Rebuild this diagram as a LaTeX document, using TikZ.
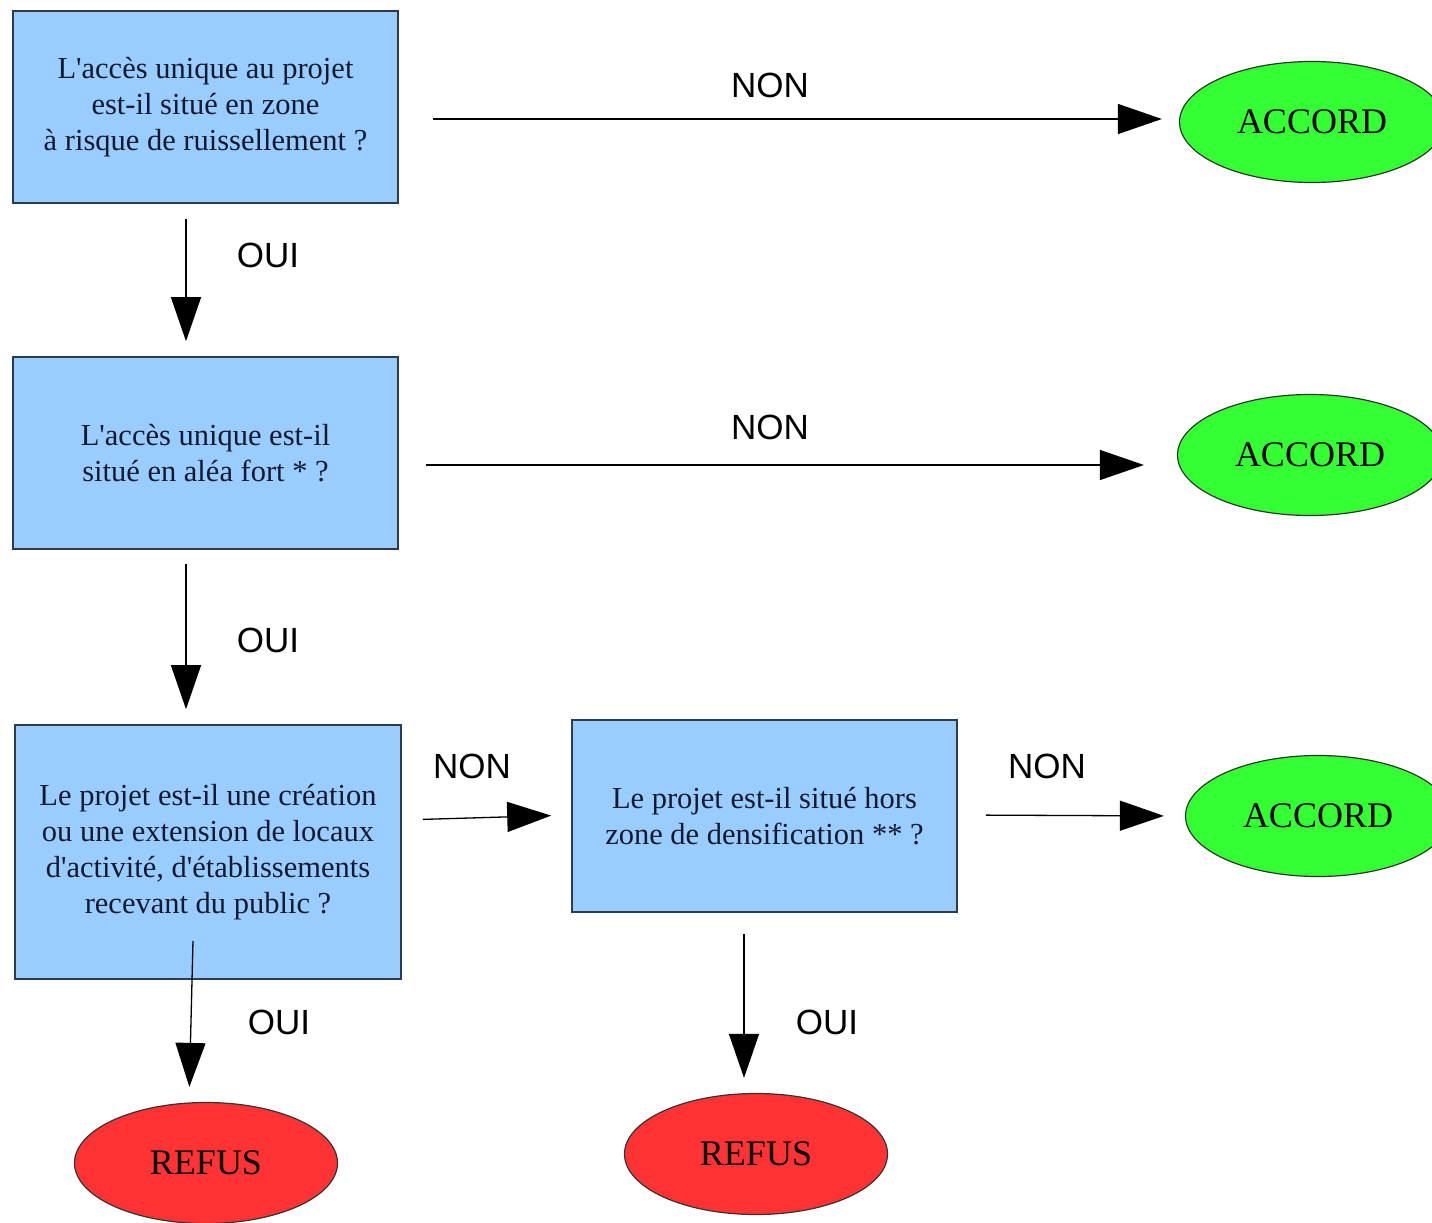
\documentclass[tikz,border=0pt]{standalone}
\usepackage{fontspec}
\setmainfont{Liberation Serif}
\newfontfamily\labelfont{Liberation Sans}
\usetikzlibrary{arrows.meta,shapes.geometric}

\definecolor{boxblue}{HTML}{99CCFF}
\definecolor{boxline}{HTML}{2E3B4E}
\definecolor{okgreen}{HTML}{33FF33}
\definecolor{nored}{HTML}{FF3333}
\definecolor{boxtext}{HTML}{141A2E}

\tikzset{
  question/.style={draw=boxline,line width=1.6pt,fill=boxblue,minimum width=385pt,
    minimum height=192pt,align=center,text=boxtext,font=\fontsize{30.5}{36}\selectfont},
  accord/.style={ellipse,draw=black!80,line width=1.2pt,fill=okgreen,minimum width=265pt,
    minimum height=121pt,inner sep=0pt,font=\fontsize{36}{40}\selectfont},
  refus/.style={ellipse,draw=black!80,line width=1.2pt,fill=nored,minimum width=263pt,
    minimum height=121pt,inner sep=0pt,font=\fontsize{36}{40}\selectfont},
  answer/.style={font=\labelfont\fontsize{35}{40}\selectfont},
  flow/.style={line width=1.3pt,-{Triangle[length=44pt,width=30pt]}}
}
\newcommand{\ap}{\textquotesingle}

\begin{document}
\begin{tikzpicture}[x=1pt,y=-1pt]
        \useasboundingbox (0,0) rectangle (1432,1223);
        \clip (0,0) rectangle (1432,1223);
        % questions
        \node[question] (b1) at (205.5,107) {L\ap acc\`es unique au projet\\ est-il situé en zone\\à risque de ruissellement ?};
        \node[question] (b2) at (205.5,453) {L\ap accès unique est-il\\situé en aléa fort * ?};
        \node[question,minimum width=386pt,minimum height=254pt] (b3) at (208,852)
          {Le projet est-il une création\\ou une extension de locaux\\ d\ap activité, d\ap établissements\\recevant du public ?};
        \node[question] (b4) at (764.5,816) {Le projet est-il situé hors\\zone de densification ** ?};
        % answers
        \node[accord] (acc1) at (1312,122) {ACCORD};
        \node[accord] (acc2) at (1310,455) {ACCORD};
        \node[accord] (acc3) at (1318,816) {ACCORD};
        \node[refus] (ref1) at (206,1163) {REFUS};
        \node[refus] (ref2) at (756,1154) {REFUS};
        % connectors
        \draw[flow,shorten <=34pt,shorten >=17pt] ([yshift=-12pt]b1.east) -- ([yshift=3pt]acc1.west);
        \draw[flow,shorten <=27pt,shorten >=33pt] ([yshift=-12pt]b2.east) -- ([yshift=-10pt]acc2.west);
        \draw[flow,shorten <=15pt,shorten >=15pt] ([xshift=-19.5pt]b1.south) -- ([xshift=-19.5pt]b2.north);
        \draw[flow,shorten <=14pt,shorten >=15pt] ([xshift=-19.5pt]b2.south) -- ([xshift=-22pt]b3.north);
        \draw[flow,shorten <=21pt,shorten >=20pt] ([yshift=32pt]b3.east) -- ([yshift=1pt]b4.west);
        \draw[flow,shorten <=28pt,shorten >=21pt] ([yshift=1pt]b4.east) -- (acc3.west);
        \draw[flow,shorten >=15pt] ([xshift=-15pt,yshift=39pt]b3.south) -- ([xshift=-17pt]ref1.north);
        \draw[flow,shorten <=21pt,shorten >=15pt] ([xshift=-20.5pt]b4.south) -- ([xshift=-12pt]ref2.north);
        % labels
        \node[answer] (non1) at (770,85) {NON};
        \node[answer] (non2) at (770,427) {NON};
        \node[answer] (non3) at (472,766) {NON};
        \node[answer] (non4) at (1047,766) {NON};
        \node[answer] (oui1) at (268,255) {OUI};
        \node[answer] (oui2) at (268,640) {OUI};
        \node[answer] (oui3) at (279,1022) {OUI};
        \node[answer] (oui4) at (827,1022) {OUI};
    \end{tikzpicture}
\end{document}
